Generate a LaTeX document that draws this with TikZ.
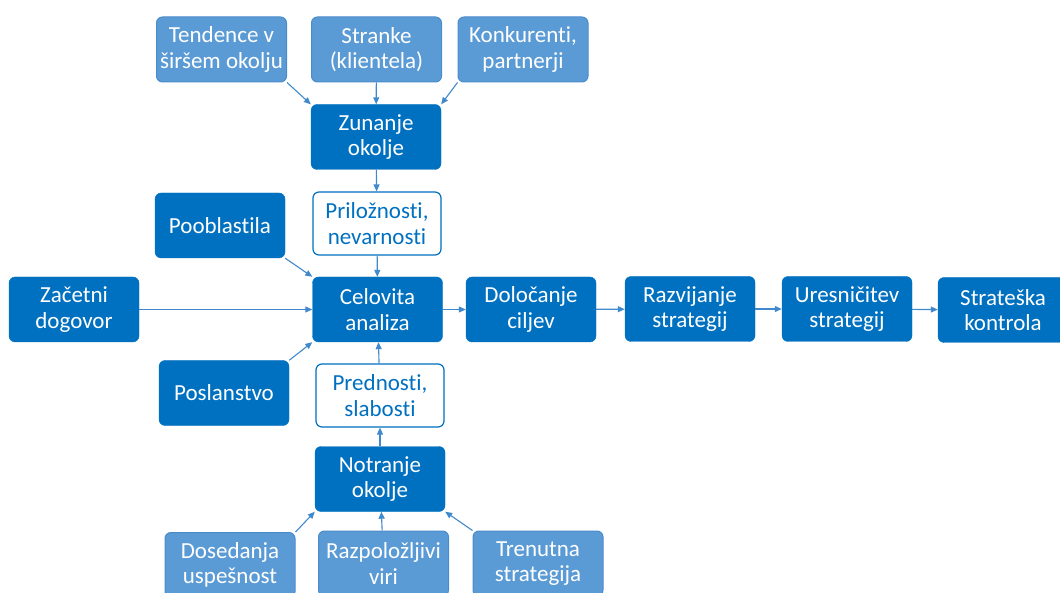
\documentclass[tikz,border=0pt]{standalone}
\usepackage{fontspec}
\setmainfont[Ligatures={NoCommon,NoContextual}]{Carlito}
\usepackage{tikz}
\usetikzlibrary{arrows.meta}
\definecolor{deep}{HTML}{0070C0}
\definecolor{pale}{HTML}{5B9BD5}
\definecolor{rim}{HTML}{4A8CCB}
\definecolor{link}{HTML}{3F89CC}
\tikzset{
  box/.style={rectangle, rounded corners=6pt, minimum width=130pt, minimum height=65pt,
    align=center, inner sep=2pt, font=\fontsize{23}{25.5}\selectfont},
  dark/.style={box, fill=deep, draw=deep, text=white},
  light/.style={box, fill=pale, draw=rim, line width=1pt, text=white},
  open/.style={box, fill=white, draw=deep, line width=1.2pt, text=deep,
    minimum width=128pt, minimum height=63pt},
  arr/.style={draw=link, line width=1.1pt, -{Triangle[length=7pt,width=6pt]}},
}
\begin{document}
\begin{tikzpicture}[x=1pt,y=-1pt]
  \useasboundingbox (0,0) rectangle (1060,593);

  % outer environment
  \node[light] (tend) at (221.5,49.5) {Tendence v\\širšem okolju};
  \node[light] (stra) at (376.5,49.5) {Stranke\\(klientela)};
  \node[light] (konk) at (523,49.5) {Konkurenti,\\partnerji};
  \node[dark] (zun) at (376,137) {Zunanje\\okolje};
  \node[open] (pril) at (377,223.5) {Priložnosti,\\nevarnosti};

  % middle row
  \node[dark] (poob) at (220,225.5) {Pooblastila};
  \node[dark] (zac) at (74,309.5) {Začetni\\dogovor};
  \node[dark] (cel) at (377.5,309.5) {Celovita\\analiza};
  \node[dark] (posl) at (224,393) {Poslanstvo};
  \node[dark] (dol) at (531,309.5) {Določanje\\ciljev};
  \node[dark] (razv) at (690,309) {Razvijanje\\strategij};
  \node[dark] (ures) at (847,309) {Uresničitev\\strategij};
  \node[dark] (kon) at (1003,310) {Strateška\\kontrola};

  % inner environment
  \node[open] (pred) at (380,395.5) {Prednosti,\\slabosti};
  \node[dark] (notr) at (380,479) {Notranje\\okolje};
  \node[light] (dos) at (230,565) {Dosedanja\\uspešnost};
  \node[light] (viri) at (383.5,563.5) {Razpoložljivi\\viri};
  \node[light] (tren) at (538,563.5) {Trenutna\\strategija};

  \draw[arr] (tend.south east) -- (zun.north west);
  \draw[arr] (stra) -- (zun);
  \draw[arr] (konk.south west) -- (zun.north east);
  \draw[arr] (zun) -- (pril);
  \draw[arr] (pril) -- (cel);
  \draw[arr] (poob.south east) -- (cel.north west);
  \draw[arr] (zac) -- (cel);
  \draw[arr] (posl.north east) -- (cel.south west);
  \draw[arr] (pred) -- (cel);
  \draw[arr] (notr) -- (pred);
  \draw[arr] (dos.north east) -- (notr.south west);
  \draw[arr] (viri) -- (notr);
  \draw[arr] (tren.north west) -- (notr.south east);
  \draw[arr] (cel) -- (dol);
  \draw[arr] (dol) -- (razv);
  \draw[arr] (razv) -- (ures);
  \draw[arr] (ures) -- (kon);
\end{tikzpicture}
\end{document}
